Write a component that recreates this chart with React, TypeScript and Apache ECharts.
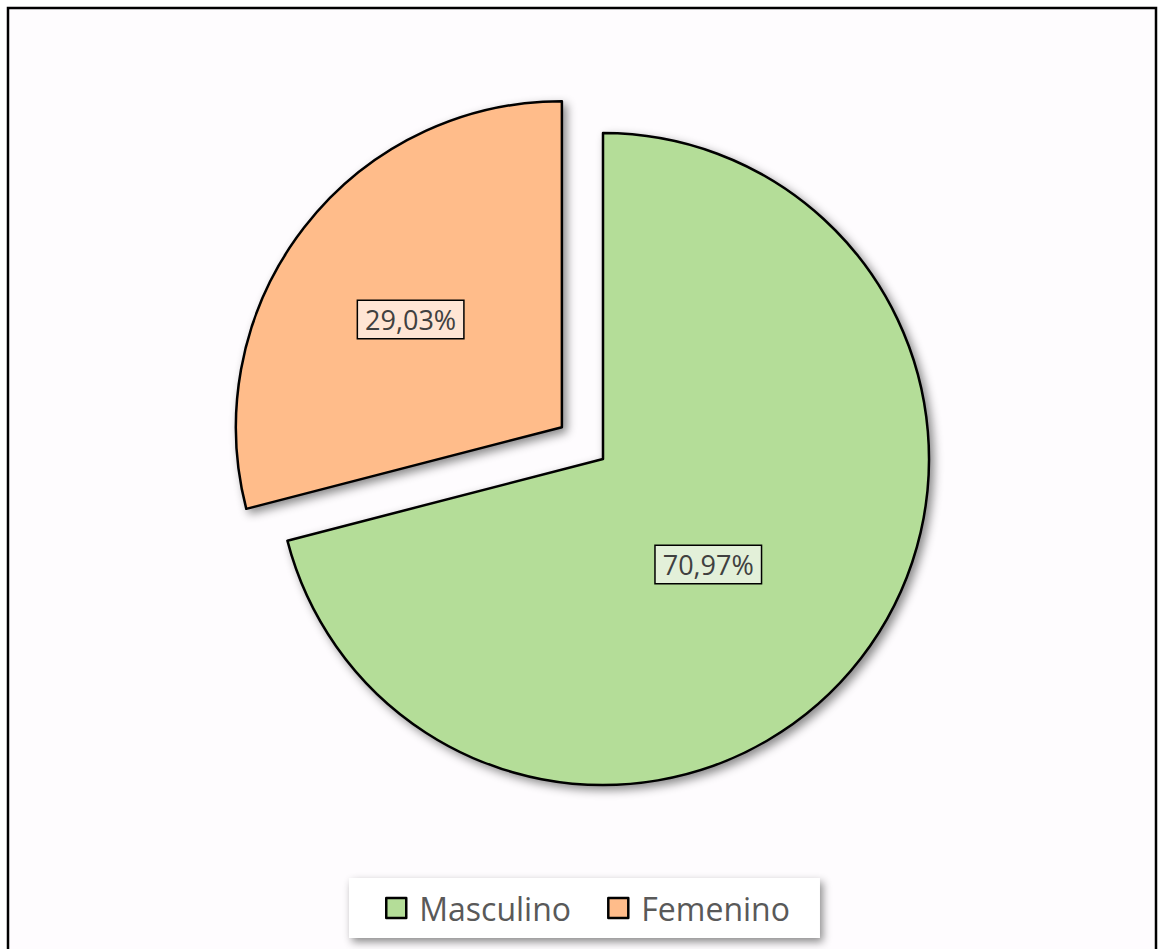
import React, { useEffect, useRef } from "react";
import * as echarts from "echarts";

const categories = ["Masculino", "Femenino"];
const values = [70.97, 29.03];
const colors = ["#B4DD98", "#FFBC8A"];
const labelBg = ["#E3F0D9", "#FFE5D4"];
const labelShift = [
  [-26, 4],
  [-20, -6],
];

export default function App() {
  const ref = useRef<HTMLDivElement>(null);
  useEffect(() => {
    if (!ref.current) return;
    const chart = echarts.init(ref.current, null, { renderer: "svg" });
    const data = categories.map((name, i) => ({
      name,
      value: values[i],
      selected: i === 1,
      itemStyle: { color: colors[i] },
      label: { backgroundColor: labelBg[i] },
    }));
    chart.setOption({
      animation: false,
      backgroundColor: "#ffffff",
      graphic: [
        {
          type: "rect",
          z: -10,
          silent: true,
          shape: { x: 8, y: 8, width: 1148, height: 970 },
          style: { fill: "#FEFCFE", stroke: "#000000", lineWidth: 2.5 },
        },
      ],
      legend: {
        data: categories,
        bottom: 11,
        left: 349,
        orient: "horizontal",
        icon: "rect",
        itemWidth: 20,
        itemHeight: 20,
        itemGap: 36,
        itemStyle: { borderColor: "#000", borderWidth: 2.5 },
        backgroundColor: "#ffffff",
        shadowColor: "rgba(0,0,0,0.45)",
        shadowBlur: 8,
        shadowOffsetX: 3,
        shadowOffsetY: 4,
        padding: [12, 30, 12, 36],
        selectedMode: false,
        textStyle: {
          fontFamily: "Open Sans",
          fontSize: 32,
          color: "#595959",
          lineHeight: 36,
          padding: [0, 0, 0, 8],
        },
      },
      series: [
        {
          type: "pie",
          center: [603, 459],
          radius: 326,
          startAngle: 90,
          clockwise: true,
          selectedMode: "single",
          selectedOffset: 52,
          avoidLabelOverlap: false,
          emphasis: { disabled: true },
          itemStyle: {
            borderColor: "#000000",
            borderWidth: 2.5,
            shadowColor: "rgba(0,0,0,0.45)",
            shadowBlur: 10,
            shadowOffsetX: 4,
            shadowOffsetY: 4,
          },
          label: {
            show: true,
            position: "inside",
            formatter: (p: any) => p.value.toFixed(2).replace(".", ",") + "%",
            fontFamily: "Open Sans",
            fontSize: 27,
            color: "#404040",
            borderColor: "#000000",
            borderWidth: 1.5,
            padding: [6, 7, 4, 7],
          },
          labelLayout: (p: any) => ({
            dx: labelShift[p.dataIndex][0],
            dy: labelShift[p.dataIndex][1],
          }),
          labelLine: { show: false },
          data,
        },
      ],
    });
    return () => chart.dispose();
  }, []);
  return (
    <div
      ref={ref}
      style={{ position: "absolute", left: 0, top: 0, width: 1160, height: 949 }}
    />
  );
}
